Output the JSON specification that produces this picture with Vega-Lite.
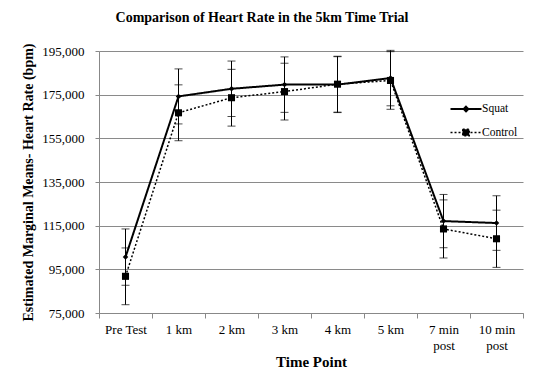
{
  "$schema": "https://vega.github.io/schema/vega-lite/v6.json",
  "width": 424,
  "height": 262,
  "autosize": {"type": "none"},
  "padding": {"left": 99, "top": 51, "right": 19, "bottom": 63},
  "background": "white",
  "config": {
    "font": "Liberation Serif",
    "view": {"stroke": null},
    "legend": {"labelFont": "Liberation Serif"}
  },
  "title": {
    "text": "Comparison of Heart Rate in the 5km Time Trial",
    "font": "Liberation Serif",
    "fontSize": 14,
    "fontWeight": "bold",
    "color": "black",
    "anchor": "middle",
    "dx": -49,
    "offset": 18
  },
  "data": {
    "values": [
      {"time": "Pre Test", "series": "Squat", "mean": 100600, "lo": 87700, "hi": 113500},
      {"time": "1 km", "series": "Squat", "mean": 174200, "lo": 161600, "hi": 186800},
      {"time": "2 km", "series": "Squat", "mean": 177700, "lo": 165000, "hi": 190400},
      {"time": "3 km", "series": "Squat", "mean": 179600, "lo": 166900, "hi": 192300},
      {"time": "4 km", "series": "Squat", "mean": 179600, "lo": 166800, "hi": 192400},
      {"time": "5 km", "series": "Squat", "mean": 182600, "lo": 169900, "hi": 195300},
      {"time": "7 min post", "series": "Squat", "mean": 117100, "lo": 104900, "hi": 129300},
      {"time": "10 min post", "series": "Squat", "mean": 116200, "lo": 103700, "hi": 128700},
      {"time": "Pre Test", "series": "Control", "mean": 91800, "lo": 78800, "hi": 104800},
      {"time": "1 km", "series": "Control", "mean": 166700, "lo": 153900, "hi": 179500},
      {"time": "2 km", "series": "Control", "mean": 173600, "lo": 160600, "hi": 186600},
      {"time": "3 km", "series": "Control", "mean": 176400, "lo": 163400, "hi": 189400},
      {"time": "4 km", "series": "Control", "mean": 179800, "lo": 167000, "hi": 192600},
      {"time": "5 km", "series": "Control", "mean": 181500, "lo": 168300, "hi": 194700},
      {"time": "7 min post", "series": "Control", "mean": 113500, "lo": 100200, "hi": 126800},
      {"time": "10 min post", "series": "Control", "mean": 109000, "lo": 95900, "hi": 122100}
    ]
  },
  "encoding": {
    "x": {
      "field": "time",
      "type": "nominal",
      "scale": {
        "domain": ["Pre Test", "1 km", "2 km", "3 km", "4 km", "5 km", "7 min post", "10 min post"],
        "paddingInner": 0,
        "paddingOuter": 0
      },
      "axis": {
        "title": "Time Point",
        "titleFont": "Liberation Serif",
        "titleFontSize": 15,
        "titleFontWeight": "bold",
        "titleColor": "black",
        "titlePadding": 2,
        "labelAngle": 0,
        "labelFont": "Liberation Serif",
        "labelFontSize": 13,
        "labelColor": "black",
        "labelPadding": 5,
        "labelLineHeight": 16,
        "labelExpr": "indexof(datum.label, ' post') > 0 ? [replace(datum.label, ' post', ''), 'post'] : datum.label",
        "tickBand": "extent",
        "tickSize": 5,
        "tickColor": "#888888",
        "domainColor": "#888888",
        "grid": false
      }
    }
  },
  "layer": [
    {
      "mark": {"type": "rule", "color": "black", "strokeWidth": 1},
      "encoding": {
        "y": {
          "field": "lo",
          "type": "quantitative",
          "scale": {"domain": [75000, 195000], "nice": false, "zero": false},
          "axis": {
            "title": "Estimated Marginal Means- Heart Rate (bpm)",
            "titleFont": "Liberation Serif",
            "titleFontSize": 14,
            "titleFontWeight": "bold",
            "titleColor": "black",
            "titlePadding": 6,
            "values": [75000, 95000, 115000, 135000, 155000, 175000, 195000],
            "format": ",.0f",
            "labelFont": "Liberation Serif",
            "labelFontSize": 13,
            "labelColor": "black",
            "labelPadding": 11,
            "tickSize": 4,
            "tickColor": "#888888",
            "domainColor": "#888888",
            "grid": true,
            "gridColor": "#8a8a8a",
            "gridWidth": 1
          }
        },
        "y2": {"field": "hi"}
      }
    },
    {
      "mark": {"type": "tick", "color": "black", "size": 8, "thickness": 1},
      "encoding": {"y": {"field": "lo", "type": "quantitative"}}
    },
    {
      "mark": {"type": "tick", "color": "black", "size": 8, "thickness": 1},
      "encoding": {"y": {"field": "hi", "type": "quantitative"}}
    },
    {
      "mark": {"type": "line", "color": "black"},
      "encoding": {
        "y": {"field": "mean", "type": "quantitative"},
        "detail": {"field": "series"},
        "strokeDash": {
          "field": "series",
          "type": "nominal",
          "scale": {"domain": ["Squat", "Control"], "range": [[1, 0], [2, 2]]},
          "legend": {
            "title": null,
            "orient": "none",
            "legendX": 358,
            "legendY": 49,
            "padding": 0,
            "symbolSize": 240,
            "symbolType": "stroke",
            "symbolFillColor": "black",
            "symbolStrokeColor": "black",
            "labelOffset": 7,
            "rowPadding": 8,
            "labelFont": "Liberation Serif",
            "labelFontSize": 11.5,
            "labelColor": "black",
            "encode": {
              "symbols": {
                "update": {
                  "shape": {"signal": "datum.value == 'Control' ? 'M-2,0L2,0M-0.42,-0.42L0.42,-0.42L0.42,0.42L-0.42,0.42Z' : 'M-2,0L2,0M0,-0.3L0.3,0L0,0.3L-0.3,0Z'"},
                  "fill": {"value": "black"},
                  "stroke": {"value": "black"},
                  "opacity": {"value": 1},
                  "fillOpacity": {"value": 1}
                }
              },
              "labels": {"update": {"font": {"value": "Liberation Serif"}, "fontSize": {"value": 11.5}}}
            }
          }
        },
        "strokeWidth": {
          "field": "series",
          "type": "nominal",
          "scale": {"domain": ["Squat", "Control"], "range": [2, 1.5]}
        }
      }
    },
    {
      "transform": [{"filter": "datum.series == 'Squat'"}],
      "mark": {"type": "point", "filled": true, "color": "black", "opacity": 1, "shape": "diamond", "size": 30},
      "encoding": {"y": {"field": "mean", "type": "quantitative"}}
    },
    {
      "transform": [{"filter": "datum.series == 'Control'"}],
      "mark": {"type": "point", "filled": true, "color": "black", "opacity": 1, "shape": "square", "size": 50},
      "encoding": {"y": {"field": "mean", "type": "quantitative"}}
    }
  ]
}
